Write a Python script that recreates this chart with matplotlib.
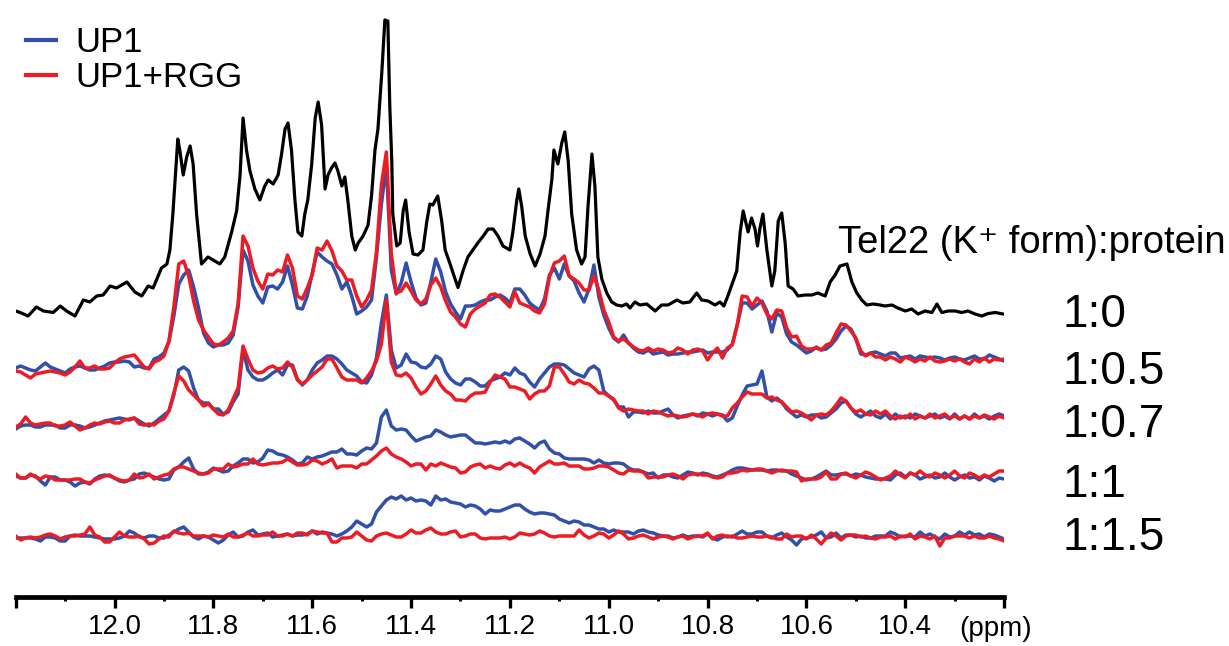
import matplotlib
matplotlib.use('Agg')
import matplotlib.pyplot as plt
import numpy as np
from matplotlib.lines import Line2D

plt.rcParams['font.family'] = ['Liberation Sans', 'DejaVu Sans']

# chemical shift grid of the protein titration spectra (ppm)
ppm = np.linspace(12.2, 10.2, 201)

# Tel22 alone (1:0), imino region
black_ppm = [12.200, 12.191, 12.175, 12.158, 12.144, 12.124, 12.110, 12.097, 12.080, 12.063,
             12.050, 12.036, 12.023, 12.009, 11.996, 11.975, 11.959, 11.945, 11.932, 11.922,
             11.905, 11.894, 11.888, 11.882, 11.872, 11.868, 11.861, 11.854, 11.847, 11.841,
             11.834, 11.824, 11.811, 11.797, 11.787, 11.777, 11.763, 11.753, 11.746, 11.740,
             11.733, 11.726, 11.716, 11.706, 11.696, 11.689, 11.679, 11.669, 11.662, 11.655,
             11.649, 11.642, 11.635, 11.629, 11.621, 11.615, 11.609, 11.601, 11.594, 11.588,
             11.581, 11.574, 11.568, 11.561, 11.554, 11.548, 11.540, 11.534, 11.528, 11.520,
             11.513, 11.507, 11.497, 11.487, 11.480, 11.473, 11.467, 11.459, 11.453, 11.447,
             11.443, 11.439, 11.437, 11.429, 11.422, 11.416, 11.411, 11.404, 11.396, 11.386,
             11.376, 11.368, 11.362, 11.356, 11.346, 11.338, 11.331, 11.321, 11.311, 11.305,
             11.295, 11.285, 11.275, 11.265, 11.254, 11.244, 11.234, 11.224, 11.214, 11.200,
             11.194, 11.186, 11.182, 11.176, 11.169, 11.159, 11.149, 11.139, 11.129, 11.123,
             11.115, 11.111, 11.103, 11.095, 11.089, 11.082, 11.075, 11.065, 11.055, 11.048,
             11.042, 11.034, 11.028, 11.022, 11.014, 11.004, 10.994, 10.984, 10.974, 10.964,
             10.957, 10.947, 10.937, 10.923, 10.906, 10.893, 10.880, 10.862, 10.850, 10.836,
             10.822, 10.812, 10.799, 10.785, 10.775, 10.767, 10.759, 10.749, 10.741, 10.734,
             10.728, 10.718, 10.711, 10.704, 10.699, 10.694, 10.688, 10.680, 10.670, 10.664,
             10.657, 10.650, 10.643, 10.637, 10.627, 10.617, 10.603, 10.589, 10.577, 10.562,
             10.552, 10.542, 10.532, 10.518, 10.508, 10.498, 10.488, 10.478, 10.465, 10.451,
             10.441, 10.427, 10.415, 10.400, 10.387, 10.374, 10.360, 10.346, 10.336, 10.326,
             10.313, 10.299, 10.286, 10.273, 10.259, 10.245, 10.233, 10.218, 10.202]
black_int = [4, 2.5, -1, 8, 4, 2.5, 9, 4, -1, 15,
             13, 19, 20, 29, 27, 33, 23, 19, 29, 27,
             47, 51, 65, 101, 176, 165, 140, 158, 169, 151,
             101, 51, 58, 54, 51, 58, 83, 104, 140, 197,
             165, 144, 126, 115, 129, 135, 131, 140, 161, 186,
             192, 165, 115, 83, 79, 101, 115, 151, 197, 213,
             190, 126, 140, 147, 152, 144, 129, 138, 115, 79,
             65, 72, 79, 90, 119, 165, 186, 244, 295, 294,
             208, 154, 101, 69, 72, 104, 115, 83, 61, 60,
             65, 94, 111, 110, 119, 94, 65, 51, 36, 27.5,
             44, 58, 65, 72, 79, 86, 86, 79, 69, 65,
             83, 115, 126, 108, 79, 61, 49, 61, 79, 104,
             136, 165, 151, 172, 183, 154, 101, 65, 51, 58,
             108, 161, 129, 58, 36, 22, 13, 10, 9, 11,
             7, 13, 10, 11, 4, 10, 10, 15, 12, 13,
             22, 15, 14, 10, 13, 9, 19, 33, 44, 83,
             104, 83, 97, 86, 69, 87, 101, 65, 29, 44,
             94, 102, 72, 29, 26, 19, 20, 20, 22, 19,
             33, 40, 49, 51, 33, 22, 15, 10, 11, 10,
             9, 10, 7, 4, 6, 1, 4, 2.5, 11, 2.5,
             4, 4, 2.5, 4, 1, -1, 1.4, 2.5, 1]

# 1:0.5
up1_05 = [4, 6, 4, 2, 1, 5, 9, 5, 3, 1, -1, 3, 5, 6, 4, 2, 2, 4, 6, 9,
          10, 10, 11, 10, 5, 6, 4, 4, 13, 15, 19, 30, 56, 88, 97, 102, 85, 64, 39, 29,
          25, 27, 27, 29, 37, 65, 122, 111, 87, 76, 69, 85, 86, 83, 90, 106, 87, 64, 63, 76,
          99, 120, 115, 111, 108, 97, 83, 90, 76, 58, 61, 65, 72, 115, 168, 207, 102, 78, 89, 109,
          90, 74, 67, 69, 90, 113, 100, 80, 68, 60, 53, 66, 66, 67, 70, 72, 72, 75, 77, 74,
          69, 83, 83, 77, 69, 65, 62, 73, 97, 104, 93, 108, 96, 91, 79, 70, 83, 107, 75, 57,
          44, 34, 30, 37, 29, 24, 20, 19, 22, 18, 19, 20, 17, 18, 18, 19, 20, 20, 21, 22,
          19, 20, 20, 20, 22, 28, 47, 69, 69, 63, 67, 71, 61, 40, 59, 55, 38, 30, 27, 23,
          19, 21, 25, 22, 23, 27, 33, 41, 46, 43, 33, 18, 17, 19, 20, 18, 16, 19, 19, 14,
          15, 16, 13, 16, 15, 14, 15, 14, 12, 14, 15, 13, 12, 14, 16, 13, 13, 17, 15, 13,
          11]
rgg_05 = [1, 0, -3, -6, -2, -1, 0, 1, 0, -1, -3, 0, 5, 11, 4, 4, 6, 3, 3, 4,
          9, 13, 15, 16, 17, 11, 5, 3, 10, 12, 16, 31, 65, 108, 111, 96, 71, 52, 42, 35,
          28, 27, 30, 34, 41, 68, 136, 126, 104, 91, 83, 98, 97, 102, 100, 117, 104, 76, 73, 84,
          97, 124, 122, 131, 121, 106, 101, 92, 92, 76, 65, 72, 82, 120, 187, 220, 119, 79, 81, 89,
          81, 72, 68, 73, 87, 94, 85, 71, 60, 55, 48, 45, 58, 63, 66, 69, 77, 78, 75, 70,
          65, 80, 69, 67, 65, 61, 59, 68, 95, 109, 111, 116, 96, 93, 89, 82, 82, 96, 82, 62,
          50, 35, 31, 33, 29, 25, 22, 21, 24, 21, 23, 22, 19, 20, 24, 22, 18, 22, 23, 21,
          12, 19, 24, 14, 24, 27, 47, 76, 75, 66, 74, 69, 58, 53, 62, 61, 44, 35, 36, 26,
          23, 23, 24, 22, 27, 29, 39, 48, 47, 41, 34, 21, 16, 19, 15, 15, 12, 15, 13, 10,
          15, 13, 10, 13, 11, 15, 11, 10, 11, 13, 11, 13, 10, 8, 13, 10, 14, 10, 13, 12,
          13]

# 1:0.7
up1_07 = [1, 4, 5, 5, 3, 3, 5, 5, 5, 2, 2, 5, 5, 4, 2, 3, 5, 7, 9, 10,
          11, 12, 11, 10, 12, 9, 6, 4, 7, 11, 15, 19, 35, 60, 63, 59, 42, 30, 27, 27,
          21, 21, 16, 18, 28, 36, 80, 60, 53, 50, 50, 53, 57, 60, 55, 65, 65, 51, 45, 50,
          60, 67, 70, 74, 74, 71, 66, 60, 57, 54, 48, 47, 55, 72, 107, 135, 80, 62, 65, 76,
          68, 67, 63, 62, 66, 74, 71, 58, 51, 47, 45, 51, 51, 48, 44, 44, 49, 51, 53, 57,
          55, 62, 57, 55, 48, 43, 51, 57, 63, 66, 66, 65, 61, 57, 55, 53, 61, 64, 60, 39,
          34, 30, 23, 23, 13, 18, 18, 17, 19, 17, 17, 19, 21, 15, 12, 14, 15, 16, 14, 17,
          16, 14, 16, 15, 9, 12, 24, 35, 44, 45, 46, 59, 33, 29, 32, 28, 21, 17, 13, 15,
          13, 15, 15, 12, 13, 17, 21, 27, 29, 22, 16, 13, 16, 19, 14, 12, 16, 11, 16, 12,
          14, 12, 16, 14, 12, 14, 16, 12, 14, 11, 16, 11, 14, 11, 16, 12, 14, 11, 14, 16,
          14]
rgg_07 = [3, 6, 13, 7, 5, 6, 7, 7, 4, 4, 5, 8, 4, 0, 2, 5, 7, 6, 8, 9,
          7, 7, 10, 11, 12, 6, 5, 6, 5, 9, 11, 19, 37, 54, 49, 40, 35, 30, 24, 26,
          21, 16, 15, 20, 31, 42, 84, 71, 60, 57, 58, 62, 64, 61, 62, 68, 63, 50, 46, 50,
          55, 59, 63, 71, 71, 62, 53, 50, 50, 50, 47, 52, 59, 69, 86, 130, 68, 55, 54, 57,
          52, 43, 36, 39, 46, 54, 45, 39, 36, 30, 30, 29, 34, 37, 37, 38, 48, 55, 53, 51,
          43, 43, 41, 39, 31, 36, 39, 39, 44, 63, 63, 56, 48, 46, 50, 47, 46, 42, 37, 37,
          34, 31, 22, 19, 21, 20, 19, 19, 16, 19, 18, 16, 14, 15, 14, 13, 14, 16, 15, 13,
          16, 17, 16, 14, 14, 22, 27, 33, 38, 36, 36, 36, 32, 33, 30, 28, 23, 18, 19, 17,
          14, 10, 15, 16, 15, 19, 25, 32, 29, 22, 18, 20, 16, 15, 19, 16, 19, 14, 11, 14,
          12, 16, 11, 14, 12, 16, 12, 14, 16, 12, 14, 11, 14, 11, 14, 12, 15, 13, 11, 14,
          12]

# 1:1
up1_10 = [6, 4, 4, 7, 6, 1, -3, 5, 5, 2, 2, 0, -4, -1, 0, -2, 3, 6, 7, 6,
          4, 1, 0, 2, 3, 8, 9, 7, 5, 3, 2, 3, 12, 15, 20, 24, 13, 8, 8, 10,
          14, 12, 10, 11, 16, 19, 23, 23, 19, 20, 24, 32, 31, 28, 27, 25, 22, 18, 19, 25,
          23, 25, 26, 28, 30, 30, 33, 28, 28, 27, 31, 34, 33, 39, 65, 72, 56, 52, 53, 52,
          46, 41, 43, 45, 46, 52, 50, 47, 45, 46, 47, 47, 43, 39, 39, 38, 39, 40, 39, 41,
          39, 43, 44, 41, 38, 34, 39, 41, 33, 29, 28, 24, 23, 23, 23, 23, 22, 19, 22, 19,
          18, 19, 19, 18, 14, 12, 12, 10, 8, 9, 4, 7, 7, 5, 4, 7, 10, 9, 7, 9,
          8, 6, 5, 7, 9, 12, 14, 14, 13, 12, 12, 12, 11, 12, 12, 11, 11, 8, 6, 4,
          2, 3, 5, 8, 11, 7, 7, 8, 8, 6, 8, 7, 5, 4, 3, 3, 3, 2, 7, 9,
          5, 9, 7, 3, 5, 7, 4, 5, 9, 5, 2, 5, 7, 4, 5, 2, 6, 4, 1, 4,
          3]
rgg_10 = [8, 4, 4, 8, 5, 3, 6, 5, 2, 2, 2, 2, 3, 3, 0, -1, 2, 4, 6, 7,
          4, 2, 1, 2, 8, 4, 5, 8, 3, 5, 7, 8, 13, 15, 15, 13, 11, 9, 8, 9,
          13, 13, 13, 18, 15, 16, 18, 18, 23, 18, 17, 18, 19, 19, 20, 23, 20, 17, 17, 18,
          22, 21, 18, 20, 23, 14, 16, 16, 16, 14, 18, 18, 22, 26, 31, 34, 28, 25, 23, 20,
          16, 18, 18, 12, 18, 16, 19, 17, 15, 14, 9, 10, 15, 17, 18, 14, 16, 14, 13, 17,
          19, 16, 19, 16, 14, 9, 15, 18, 21, 18, 18, 19, 16, 16, 16, 13, 13, 14, 16, 16,
          15, 12, 9, 8, 12, 11, 11, 10, 4, 5, 5, 5, 7, 8, 6, 3, 7, 8, 8, 7,
          7, 5, 4, 5, 9, 9, 10, 12, 11, 12, 13, 13, 11, 9, 11, 12, 11, 11, 10, 1,
          3, 3, 3, 5, 10, 3, 3, 8, 9, 6, 4, 7, 10, 8, 5, 2, 4, 6, 11, 7,
          4, 9, 7, 11, 7, 5, 9, 7, 4, 7, 11, 6, 4, 9, 7, 4, 7, 5, 8, 11,
          11]

# 1:1.5
up1_15 = [4, 4, 4, 4, 3, 1, 5, 5, 4, 1, 1, 6, 7, 6, 6, 6, 5, 4, 3, 3,
          3, 4, 6, 11, 9, 5, 4, 6, 6, 4, 4, 7, 10, 13, 15, 10, 5, 3, 6, 5,
          2, -1, 2, 7, 10, 5, 6, 10, 12, 7, 8, 9, 5, 6, 7, 8, 6, 7, 7, 8,
          11, 8, 10, 9, 8, 6, 8, 11, 15, 21, 18, 15, 18, 30, 36, 42, 45, 43, 46, 42,
          44, 41, 42, 41, 37, 46, 42, 43, 40, 39, 38, 35, 37, 36, 33, 28, 32, 31, 31, 33,
          35, 37, 37, 33, 30, 28, 29, 29, 28, 27, 23, 21, 19, 21, 20, 17, 17, 15, 13, 13,
          10, 12, 10, 10, 10, 8, 11, 12, 10, 9, 7, 6, 6, 4, 5, 7, 5, 6, 6, 5,
          8, 4, 2, 5, 6, 5, 8, 11, 8, 8, 10, 10, 6, 4, 7, 9, 5, 2, -3, 3,
          4, 5, 7, 10, 4, 5, 9, 4, 7, 7, 5, 6, 4, 4, 6, 6, 6, 10, 8, 5,
          6, 6, 5, 10, 6, 8, 5, 3, 8, 5, 6, 10, 7, 10, 7, 8, 5, 8, 7, 5,
          3]
rgg_15 = [6, 2, 4, 5, 4, 5, 7, 8, 6, 3, 5, 6, 6, 7, 8, 15, 7, 5, 0, 0,
          5, 10, 6, 5, 5, 6, 3, -2, -1, 3, 6, 5, 11, 9, 8, 9, 6, 6, 6, 5,
          7, 6, 5, 8, 5, 5, 7, 9, 6, 6, 7, 7, 10, 6, 6, 8, 6, 9, 9, 7,
          11, 10, 9, 9, 0, 0, 4, 4, 5, 10, 6, 2, 1, 6, 8, 9, 7, 5, 5, 8,
          12, 9, 9, 12, 14, 10, 8, 8, 10, 11, 5, 6, 8, 8, 4, 3, 4, 4, 4, 5,
          3, 5, 9, 8, 7, 8, 11, 9, 6, 5, 6, 6, 6, 6, 12, 7, 4, 6, 9, 8,
          4, 7, 11, 8, 3, 4, 6, 7, 5, 3, 5, 6, 5, 3, 5, 6, 3, 5, 6, 6,
          9, 3, 6, 7, 5, 6, 4, 4, 5, 6, 5, 5, 6, 5, 3, 3, 8, 5, 6, 6,
          3, 7, 3, -2, 4, 9, 6, 2, 6, 7, 7, 5, 6, 4, 3, 5, 5, 6, 3, 6,
          5, 8, 3, 6, 5, 3, 6, -4, 4, 4, 6, 6, 6, 4, 6, 4, 4, 6, 4, 3,
          1]

ratios = ['1:0', '1:0.5', '1:0.7', '1:1', '1:1.5']
up1 = [up1_05, up1_07, up1_10, up1_15]
rgg = [rgg_05, rgg_07, rgg_10, rgg_15]

# stacking of the spectra
offsets = [282, 225, 167, 115, 55]
blue = '#3050AA'
red = '#ED1C24'
narrow = ['Liberation Sans Narrow', 'Liberation Sans', 'DejaVu Sans']

fig = plt.figure(figsize=(12.29, 6.46), dpi=100)
ax = fig.add_axes([15.7 / 1229, 49 / 646, 988.4 / 1229, 597 / 646])

ax.plot(black_ppm, np.array(black_int) + offsets[0], color='black', lw=2.3,
        solid_joinstyle='round')
for b, r, off in zip(up1, rgg, offsets[1:]):
    ax.plot(ppm, np.array(b) + off, color=blue, lw=2.5, solid_joinstyle='round')
    ax.plot(ppm, np.array(r) + off, color=red, lw=2.5, solid_joinstyle='round')

ax.set_xlim(12.2, 10.2)
ax.set_ylim(0, 597)

major = [12.2, 12.0, 11.8, 11.6, 11.4, 11.2, 11.0, 10.8, 10.6, 10.4, 10.2]
minor = [12.1, 11.9, 11.7, 11.5, 11.3, 11.1, 10.9, 10.7, 10.5, 10.3]
ax.set_xticks(major)
ax.set_xticklabels([''] + ['%.1f' % v for v in major[1:-1]] + [''], family=narrow,
                   fontstretch='condensed')
ax.set_xticks(minor, minor=True)
ax.tick_params(axis='x', which='major', direction='out', length=8, width=2.4,
               labelsize=20, pad=4)
ax.tick_params(axis='x', which='minor', direction='out', length=3, width=2.2)
ax.set_yticks([])
for s in ['top', 'right', 'left']:
    ax.spines[s].set_visible(False)
ax.spines['bottom'].set_linewidth(3.4)

fig.text(996 / 1229, 1 - 629 / 646, '(ppm)', ha='center', va='center', fontsize=20,
         family=narrow, fontstretch='condensed')

fig.text(838 / 1229, 1 - 243 / 646, 'Tel22 (K\u207a form):protein', ha='left',
         va='center', fontsize=27.5)
label_y = [315, 372, 425, 485, 538]
for t, yy in zip(ratios, label_y):
    fig.text(1062 / 1229, 1 - yy / 646, t, ha='left', va='center', fontsize=33)

handles = [Line2D([], [], color=blue, lw=3), Line2D([], [], color=red, lw=3)]
fig.legend(handles, ['UP1', 'UP1+RGG'], loc='upper left',
           bbox_to_anchor=(2 / 1229, 1 - 2 / 646), frameon=False, fontsize=25,
           handlelength=0.85, handletextpad=0.55, labelspacing=0.06, borderpad=0.2)

fig.savefig('out.png', dpi=100)
